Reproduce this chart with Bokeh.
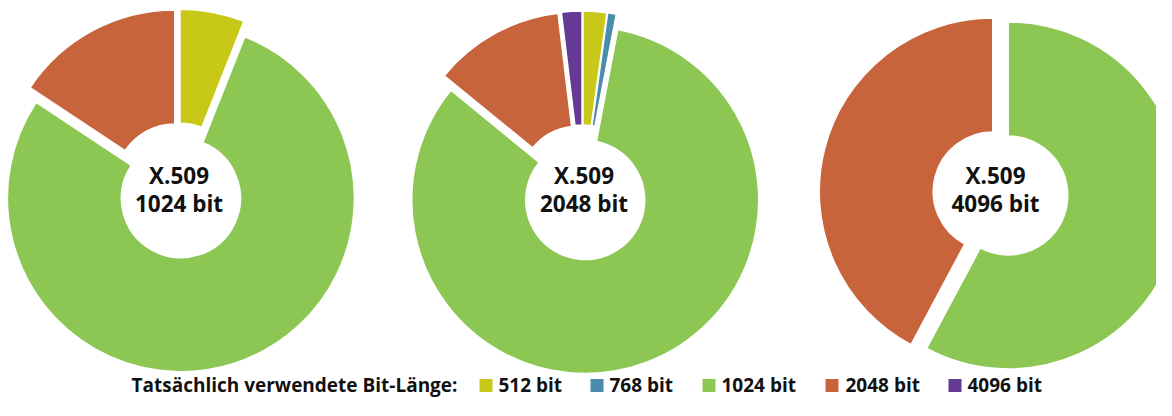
import numpy as np
from bokeh.plotting import figure
from bokeh.models import Range1d, ColumnDataSource
from bokeh.core.properties import value
from bokeh.embed import file_html
from bokeh.resources import INLINE

# ---- data ----
bit_lengths = ["512 bit", "768 bit", "1024 bit", "2048 bit", "4096 bit"]
colors = ["#C8C819", "#4A8CAB", "#8DC753", "#C8643C", "#653A94"]
share_1024 = [6.0, 0.0, 78.3, 15.7, 0.0]
share_2048 = [2.2, 0.8, 82.9, 12.2, 1.9]
share_4096 = [0.0, 0.0, 57.8, 42.2, 0.0]
chart_labels = ["X.509\n1024 bit", "X.509\n2048 bit", "X.509\n4096 bit"]
legend_title = "Tatsächlich verwendete Bit-Länge:"

# ---- layout (pixel coordinates, y downward) ----
W, H = 1156, 400
centers_x = [178, 582, 1000]
centers_y = [190, 192, 193]
label_x = [178.5, 583.5, 995]
LINE1_BASE, LINE2_BASE = 175, 203
R_OUT, R_IN, EXPLODE = 173.5, 59.5, 8.0
FONT = value("Open Sans")

p = figure(width=W, height=H, output_backend="svg", toolbar_location=None,
           x_range=Range1d(0, W), y_range=Range1d(-H, 0),
           min_border=0, outline_line_color=None, background_fill_color="white",
           border_fill_color="white")
p.axis.visible = False
p.grid.visible = False

xs, ys, sa, ea, cols = [], [], [], [], []
for shares, cx, cy in zip([share_1024, share_2048, share_4096], centers_x, centers_y):
    total = float(sum(shares))
    c0 = 0.0
    for s, col in zip(shares, colors):
        if s <= 0:
            continue
        c1 = c0 + 360.0 * s / total
        mid = np.radians((c0 + c1) / 2.0)
        xs.append(cx + EXPLODE * np.sin(mid))
        ys.append(-cy + EXPLODE * np.cos(mid))
        sa.append(np.radians(90.0 - c1))
        ea.append(np.radians(90.0 - c0))
        cols.append(col)
        c0 = c1

src = ColumnDataSource(dict(x=xs, y=ys, sa=sa, ea=ea, color=cols))
p.annular_wedge(x="x", y="y", inner_radius=R_IN, outer_radius=R_OUT,
                start_angle="sa", end_angle="ea", direction="anticlock",
                fill_color="color", line_color="white", line_width=1.5, source=src)

# center labels (two lines each)
line1 = [lab.split("\n")[0] for lab in chart_labels]
line2 = [lab.split("\n")[1] for lab in chart_labels]
for lines, base in ((line1, LINE1_BASE), (line2, LINE2_BASE)):
    p.text(x=label_x, y=[-base] * len(lines), text=lines,
           text_font=FONT, text_font_style="bold", text_font_size="22.5px",
           text_align="center", text_baseline="alphabetic", text_color="#111111")

# legend
LEG_BASE = 384
sw_x = [485.5, 596.5, 708.5, 831.5, 954.5]
lab_x = [498, 609, 721, 845, 967]
p.rect(x=sw_x, y=[-(LEG_BASE + 1.0)] * 5, width=13, height=13,
       fill_color=colors, line_color=None)
p.text(x=lab_x, y=[-LEG_BASE] * 5, text=bit_lengths, text_font=FONT,
       text_font_style="bold", text_font_size="19px", text_align="left",
       text_baseline="alphabetic", text_color="#111111")
p.text(x=[457], y=[-LEG_BASE], text=[legend_title], text_font=FONT,
       text_font_style="bold", text_font_size="19px", text_align="right",
       text_baseline="alphabetic", text_color="#111111")

open("out.html", "w").write(file_html(p, INLINE))
